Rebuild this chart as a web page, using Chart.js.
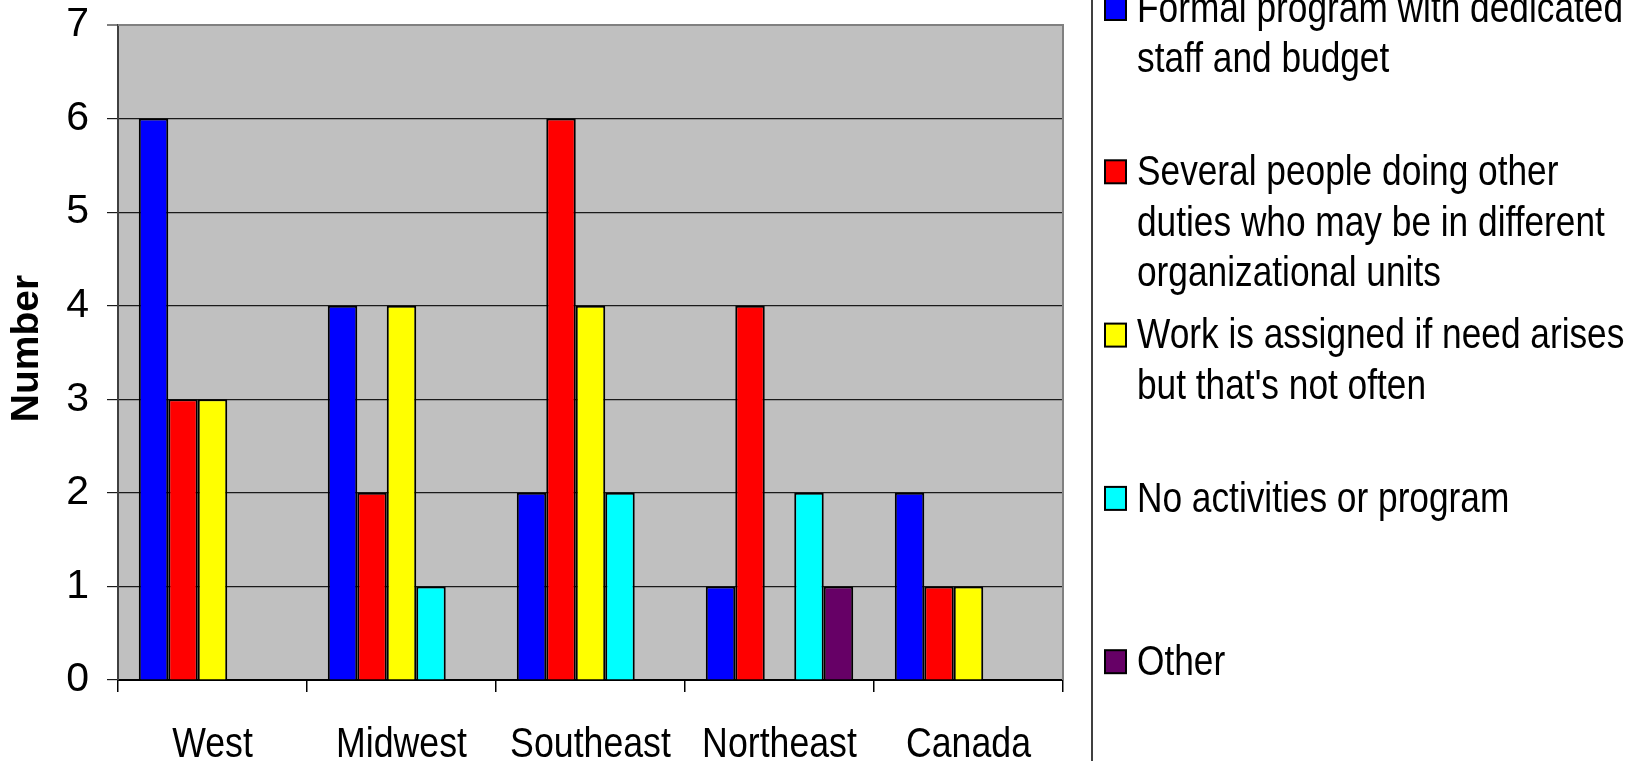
<!DOCTYPE html>
<html>
<head>
<meta charset="utf-8">
<script src="https://cdn.jsdelivr.net/npm/chart.js@4/dist/chart.umd.min.js"></script>
<style>
  html, body { margin: 0; padding: 0; background: #ffffff; }
  #wrap { width: 1630px; height: 761px; position: relative; }
</style>
</head>
<body>
<div id="wrap"><canvas id="c" width="1630" height="761"></canvas></div>
<script>
const categories = ["West", "Midwest", "Southeast", "Northeast", "Canada"];
const seriesNames = [
  ["Formal program with dedicated", "staff and budget"],
  ["Several people doing other", "duties who may be in different", "organizational units"],
  ["Work is assigned if need arises", "but that's not often"],
  ["No activities or program"],
  ["Other"]
];
const formalProgram = [6, 4, 2, 1, 2];
const severalPeople = [3, 2, 6, 4, 1];
const workAssigned  = [3, 4, 4, 0, 1];
const noActivities  = [0, 1, 2, 2, 0];
const otherValues   = [0, 0, 0, 1, 0];
const seriesColors = ["#0000FF", "#FF0000", "#FFFF00", "#00FFFF", "#660066"];
const yTicks = [0, 1, 2, 3, 4, 5, 6, 7];
const yTitle = "Number";

const FONT = "'Liberation Sans', Arial, sans-serif";
const allSeries = [formalProgram, severalPeople, workAssigned, noActivities, otherValues];

const datasets = allSeries.map((vals, i) => ({
  label: seriesNames[i].join(' '),
  data: vals,
  backgroundColor: seriesColors[i],
  borderColor: '#000000',
  borderWidth: (ctx) => (ctx.raw === 0 ? 0 : 2),
  borderSkipped: 'bottom',
  categoryPercentage: 0.78,
  barPercentage: 1.0
}));

function narrowText(ctx, text, x, y, sx, align) {
  ctx.save();
  ctx.translate(x, y);
  ctx.scale(sx, 1);
  ctx.textAlign = align;
  ctx.fillText(text, 0, 0);
  ctx.restore();
}

const plotBg = {
  id: 'plotBg',
  beforeDraw(chart) {
    const {ctx, chartArea: a} = chart;
    ctx.save();
    ctx.fillStyle = '#C0C0C0';
    ctx.fillRect(a.left, a.top, a.right - a.left, a.bottom - a.top);
    ctx.restore();
  },
  afterDatasetsDraw(chart) {
    const {ctx, chartArea: a} = chart;
    ctx.save();
    ctx.strokeStyle = '#808080';
    ctx.lineWidth = 2;
    ctx.beginPath();
    ctx.moveTo(a.left, a.top);
    ctx.lineTo(a.right, a.top);
    ctx.lineTo(a.right, a.bottom);
    ctx.stroke();
    ctx.restore();
  }
};

const axisTexts = {
  id: 'axisTexts',
  afterDraw(chart) {
    const {ctx, chartArea: a} = chart;
    const xs = chart.scales.x;
    ctx.save();
    ctx.fillStyle = '#000000';
    ctx.font = "42px " + FONT;
    ctx.textBaseline = 'middle';
    categories.forEach((c, i) => {
      narrowText(ctx, c, xs.getPixelForValue(i), a.bottom + 65, 0.85, 'center');
    });
    ctx.font = "bold 39px " + FONT;
    ctx.translate(27.5, (a.top + a.bottom) / 2 - 4);
    ctx.rotate(-Math.PI / 2);
    ctx.textAlign = 'center';
    ctx.textBaseline = 'middle';
    ctx.fillText(yTitle, 0, 0);
    ctx.restore();
  }
};

const sideLegend = {
  id: 'sideLegend',
  afterDraw(chart) {
    const {ctx} = chart;
    const lineX = 1092;
    ctx.save();
    ctx.strokeStyle = '#000000';
    ctx.lineWidth = 1.5;
    ctx.beginPath();
    ctx.moveTo(lineX, 0);
    ctx.lineTo(lineX, chart.height);
    ctx.stroke();
    const firstY = 8, step = 163.3, lineH = 50.5;
    ctx.font = "43px " + FONT;
    ctx.textBaseline = 'middle';
    seriesNames.forEach((lines, i) => {
      const y0 = firstY + i * step;
      ctx.fillStyle = seriesColors[i];
      ctx.fillRect(1105, y0 - 11, 21, 23);
      ctx.strokeStyle = '#000000';
      ctx.lineWidth = 2;
      ctx.strokeRect(1105, y0 - 11, 21, 23);
      ctx.fillStyle = '#000000';
      lines.forEach((t, k) => narrowText(ctx, t, 1137, y0 + 2 + k * lineH, 0.82, 'left'));
    });
    ctx.restore();
  }
};

new Chart(document.getElementById('c'), {
  type: 'bar',
  data: { labels: categories, datasets },
  options: {
    responsive: false,
    animation: false,
    devicePixelRatio: 1,
    layout: { padding: { top: 25, right: 567, left: 0, bottom: 0 } },
    plugins: { legend: { display: false }, tooltip: { enabled: false } },
    scales: {
      x: {
        afterFit: (s) => { s.height = 81; s.paddingLeft = 0; s.paddingRight = 0; },
        grid: {
          offset: true,
          drawOnChartArea: false,
          drawTicks: true,
          tickLength: 12,
          color: '#000000',
          lineWidth: 1.5
        },
        border: { display: true, color: '#000000', width: 2 },
        ticks: {
          display: true,
          autoSkip: false,
          color: 'rgba(0,0,0,0)',
          font: { family: FONT, size: 20 },
          maxRotation: 0
        }
      },
      y: {
        min: 0,
        max: 7,
        afterFit: (s) => { s.width = 118; s.paddingTop = 0; s.paddingBottom = 0; },
        afterBuildTicks: (s) => { s.ticks = yTicks.map(v => ({ value: v })); },
        grid: {
          color: (c) => (c.tick && c.tick.value === 7 ? '#808080' : '#1a1a1a'),
          lineWidth: (c) => (c.tick && c.tick.value === 7 ? 2 : 1.2),
          tickLength: 11,
          drawTicks: true
        },
        border: { display: true, color: '#404040', width: 2 },
        ticks: {
          color: '#000000',
          font: { family: FONT, size: 41 },
          padding: 18,
          stepSize: 1
        }
      }
    }
  },
  plugins: [plotBg, axisTexts, sideLegend]
});
</script>
</body>
</html>
